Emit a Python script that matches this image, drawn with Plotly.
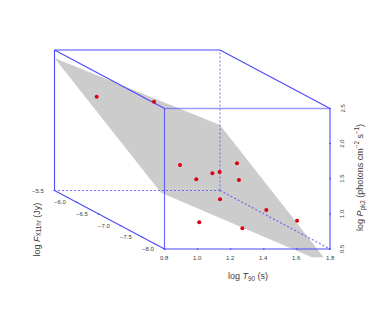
import plotly.graph_objects as go

# data values: (log T90, log F, log Ppk)
T90 = [0.975, 1.109, 1.133, 1.205, 1.355, 1.399, 1.557, 1.489, 1.295, 1.063, 1.548, 1.734, 1.297]
FX = [-5.8, -6.6, -7.1, -7.2, -7.0, -7.0, -6.8, -7.1, -7.4, -7.8, -7.5, -7.5, -7.9]
PPK = [1.935, 2.130, 1.396, 1.226, 1.244, 1.263, 1.320, 1.182, 1.008, 0.813, 0.889, 0.736, 0.761]

PLANE_T = [0.8, 1.8, 1.8, 1.691, 0.8]
PLANE_F = [-5.5, -5.5, -7.857, -8.0, -7.92]
PLANE_P = [2.386, 1.432, 0.335, 0.382, 1.273]

T_TICKS = [0.8, 1.0, 1.2, 1.4, 1.6, 1.8]
F_TICKS = [-8.0, -7.5, -7.0, -6.5, -6.0, -5.5]
P_TICKS = [0.5, 1.0, 1.5, 2.0, 2.5]
T0, T1, F0, F1, P0, P1 = 0.8, 1.8, -8.0, -5.5, 0.5, 2.5


def proj(t, f, p):
    """Oblique projection of the data cube on to the page."""
    return (164.5 + (t - T0) * 165.5 - (f - F0) * 44.0,
            249.0 - (p - P0) * 70.25 - (f - F0) * 23.4)


BLUE = "#4a4aff"
TEXT = "#404040"
fig = go.Figure()


def seg(a, b, color=BLUE, width=1.1, dash="solid", opacity=1.0):
    x0, y0 = proj(*a)
    x1, y1 = proj(*b)
    fig.add_trace(go.Scatter(x=[x0, x1], y=[y0, y1], mode="lines", opacity=opacity,
                             line=dict(color=color, width=width, dash=dash),
                             hoverinfo="skip", showlegend=False))


# back/side solid edges
seg((T0, F1, P0), (T0, F1, P1))
seg((T0, F1, P1), (T1, F1, P1))
seg((T1, F1, P1), (T1, F0, P1))
seg((T0, F1, P0), (T0, F0, P0))

# regression plane
px, py = zip(*[proj(*v) for v in zip(PLANE_T, PLANE_F, PLANE_P)])
fig.add_trace(go.Scatter(x=list(px) + [px[0]], y=list(py) + [py[0]], mode="lines", fill="toself",
                         fillcolor="rgba(204,204,204,1)", line=dict(width=0),
                         hoverinfo="skip", showlegend=False))

# hidden back edges, showing through the plane
seg((T1, F1, P0), (T0, F1, P0), dash="2px,2px", opacity=0.75, width=1.2)
seg((T1, F1, P0), (T1, F0, P0), dash="2px,2px", opacity=0.75, width=1.2)
seg((T1, F1, P0), (T1, F1, P1), dash="2px,2px", opacity=0.55, width=1.4)

# front edges
seg((T0, F0, P0), (T0, F0, P1), opacity=0.85)
seg((T0, F0, P1), (T1, F0, P1), opacity=0.55, width=1.4)
seg((T1, F0, P0), (T1, F0, P1))
seg((T0, F0, P0), (T1, F0, P0))
seg((T0, F1, P1), (T0, F0, P1))

# points
sx, sy = zip(*[proj(*v) for v in zip(T90, FX, PPK)])
fig.add_trace(go.Scatter(x=sx, y=sy, mode="markers", marker=dict(color="#dd0010", size=4),
                         hoverinfo="skip", showlegend=False))

# ticks
for t in T_TICKS:
    x, y = proj(t, F0, P0)
    fig.add_trace(go.Scatter(x=[x, x], y=[y - 1, y + 1], mode="lines", line=dict(color=BLUE, width=1),
                             hoverinfo="skip", showlegend=False))
    fig.add_annotation(x=x, y=y + 9, text=f"{t:.1f}", showarrow=False, font=dict(size=6, color=TEXT))
for f in F_TICKS:
    x, y = proj(T0, f, P0)
    fig.add_trace(go.Scatter(x=[x - 1, x + 1], y=[y, y], mode="lines", line=dict(color=BLUE, width=1),
                             hoverinfo="skip", showlegend=False))
    fig.add_annotation(x=x - 16, y=y, text=f"\u2212{abs(f):.1f}", showarrow=False,
                       font=dict(size=6, color=TEXT))
for p in P_TICKS:
    x, y = proj(T1, F0, p)
    fig.add_trace(go.Scatter(x=[x - 1, x + 1], y=[y, y], mode="lines", line=dict(color=BLUE, width=1),
                             hoverinfo="skip", showlegend=False))
    fig.add_annotation(x=x + 12, y=y, text=f"{p:.1f}", textangle=-90, showarrow=False,
                       font=dict(size=6, color=TEXT))

# titles
fig.add_annotation(x=247.5, y=276.5, showarrow=False, font=dict(size=9, color=TEXT),
                   text="log <i>T</i><sub>90</sub> (s)")
fig.add_annotation(x=36.5, y=230, textangle=-90, showarrow=False, font=dict(size=9, color=TEXT),
                   text="log <i>F</i><sub>X11hr</sub> (Jy)")
fig.add_annotation(x=360, y=178, textangle=-90, showarrow=False, font=dict(size=9, color=TEXT),
                   text="log <i>P</i><sub>pk2</sub> (photons cm<sup>\u22122</sup> s<sup>\u22121</sup>)")

fig.update_layout(
    width=374, height=311, margin=dict(l=0, r=0, t=0, b=0),
    paper_bgcolor="white", plot_bgcolor="white",
    font=dict(family="Liberation Sans"),
    xaxis=dict(range=[0, 374], visible=False, fixedrange=True),
    yaxis=dict(range=[311, 0], visible=False, fixedrange=True),
    showlegend=False,
)
fig.write_html("out.html", config=dict(displayModeBar=False),
               post_script="document.documentElement.style.overflow='hidden';document.body.style.margin='0';")
